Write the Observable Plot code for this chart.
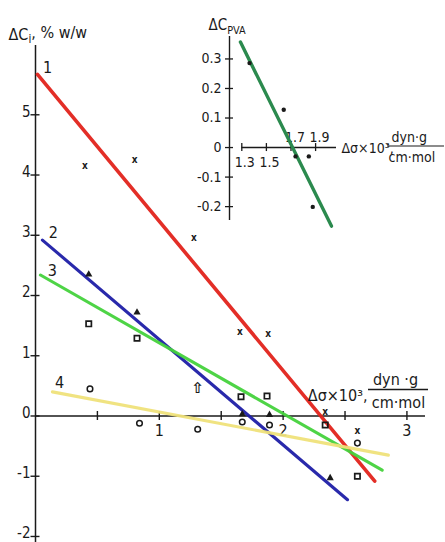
<!DOCTYPE html>
<html><head><meta charset="utf-8">
<script src="https://cdn.jsdelivr.net/npm/d3@7"></script>
<script src="https://cdn.jsdelivr.net/npm/@observablehq/plot@0.6"></script>
<style>
body{margin:0;background:#fff}
#wrap{position:relative;width:445px;height:542px;background:#fff}
#wrap svg{position:absolute;left:0;top:0}
</style></head><body><div id="wrap"></div>
<script>
// ---------- data: main chart ----------
const xTicks = [0.5, 1, 1.5, 2, 2.5, 3];
const xTickLabels = [1, 2, 3];
const yTicks = [-2, -1, 0, 1, 2, 3, 4, 5];
const yTickLabels = ["-2", "-1", "0", "1", "2", "3", "4", "5"];

const lineIds = ["1", "2", "3", "4"];
const lineX1 = [0.016, 0.056, 0.040, 0.137];
const lineY1 = [5.67, 2.92, 2.34, 0.40];
const lineX2 = [2.74, 2.52, 2.80, 2.85];
const lineY2 = [-1.08, -1.39, -0.90, -0.65];
const lineColors = ["#e2231b", "#1e1ea6", "#45d23c", "#efe27a"];

const s1x = [0.40, 0.80, 1.28, 1.65, 1.88, 2.34, 2.60];
const s1y = [4.13, 4.23, 2.94, 1.38, 1.34, 0.05, -0.27];
const s2x = [0.43, 0.82, 1.31, 1.67, 1.89, 2.38];
const s2y = [2.35, 1.72, 0.46, 0.03, 0.02, -1.03];
const s2shape = ["tri", "tri", "arrow", "tri", "tri", "tri"];
const s3x = [0.43, 0.82, 1.66, 1.87, 2.34, 2.60];
const s3y = [1.53, 1.29, 0.32, 0.33, -0.15, -1.00];
const s4x = [0.44, 0.84, 1.31, 1.67, 1.89, 2.60];
const s4y = [0.45, -0.12, -0.22, -0.10, -0.15, -0.45];

// ---------- data: inset ----------
const inXTicks = [1.3, 1.5, 1.7, 1.9];
const inXTickLabels = ["1.3", "1.5", "1.7", "1.9"];
const inYTicks = [-0.2, -0.1, 0, 0.1, 0.2, 0.3];
const inYTickLabels = ["-0.2", "-0.1", "0", "0.1", "0.2", "0.3"];
const inLineX = [1.289, 2.029];
const inLineY = [0.357, -0.266];
const inPtX = [1.363, 1.641, 1.737, 1.845, 1.877];
const inPtY = [0.286, 0.128, -0.030, -0.030, -0.201];

const FONT = "'DejaVu Sans Condensed','Liberation Sans Narrow','Liberation Sans',sans-serif";
const INK = "#1a1a1a";

const pts = (xs, ys, extra) => xs.map((x, i) => ({x, y: ys[i], ...(extra ? {k: extra[i]} : {})}));
const lines = lineIds.flatMap((id, i) => [
  {id, x: lineX1[i], y: lineY1[i]},
  {id, x: lineX2[i], y: lineY2[i]}
]);

// ---------- main chart ----------
const X0 = 0, X1 = 3.15, Y0 = -2.1, Y1 = 6.15;
const W = 445, H = 542, ML = 35, MR = 20, MT = 45, MB = 0;
const pxX = (W - ML - MR) / (X1 - X0);
const pxY = (H - MT - MB) / (Y1 - Y0);
const tx = 4.5 / pxX, ty = 4.5 / pxY;

const labelOffsets = [[10, -7], [11, -7], [12, -4], [7, -9]];

const main = Plot.plot({
  width: W, height: H,
  marginLeft: ML, marginRight: MR, marginTop: MT, marginBottom: MB,
  x: {domain: [X0, X1], axis: null},
  y: {domain: [Y0, Y1], axis: null},
  style: {fontFamily: FONT, background: "transparent", overflow: "visible", color: INK},
  marks: [
    Plot.ruleX([0], {stroke: INK, strokeWidth: 1.5}),
    Plot.ruleY([0], {stroke: INK, strokeWidth: 1.5}),
    Plot.ruleX(xTicks, {x: d => d, y1: () => -ty, y2: () => ty, stroke: INK, strokeWidth: 1.4}),
    Plot.ruleY(yTicks, {y: d => d, x1: () => -tx, x2: () => tx, stroke: INK, strokeWidth: 1.4}),
    Plot.text(xTickLabels, {x: d => d, y: () => 0, dy: 15, text: d => String(d), fontSize: 16, fill: INK}),
    Plot.text(yTicks, {x: () => 0, y: d => d, dx: -5, dy: -3, textAnchor: "end", text: (d, i) => yTickLabels[i], fontSize: 15, fill: INK}),
    Plot.text(["ΔCi, % w/w"], {frameAnchor: "top-left", lineAnchor: "middle", dx: -27, dy: -11, textAnchor: "start", text: d => d, fontSize: 16, fill: INK}),
    // regression lines
    Plot.line(lines, {x: "x", y: "y", z: "id", stroke: d => lineColors[lineIds.indexOf(d.id)], strokeWidth: d => d.id === "1" ? 3.6 : 3.1, strokeOpacity: 0.95}),
    ...lineIds.map((id, i) => Plot.text([id], {x: () => lineX1[i], y: () => lineY1[i], dx: labelOffsets[i][0], dy: labelOffsets[i][1], text: d => d, fontSize: 16, fill: INK})),
    // measured points
    Plot.text(pts(s1x, s1y), {x: "x", y: "y", text: () => "x", fontSize: 10, fontWeight: "bold", fill: INK, dy: -1}),
    Plot.dot(pts(s2x, s2y, s2shape).filter(d => d.k === "tri"), {x: "x", y: "y", symbol: "triangle", r: 2.7, fill: INK}),
    Plot.text(pts(s2x, s2y, s2shape).filter(d => d.k === "arrow"), {x: "x", y: "y", text: () => "⇧", fontSize: 15, fontFamily: "DejaVu Sans", fontWeight: "bold", fill: INK}),
    Plot.dot(pts(s3x, s3y), {x: "x", y: "y", symbol: "square", r: 3, stroke: INK, strokeWidth: 1.7, fill: "none"}),
    Plot.dot(pts(s4x, s4y), {x: "x", y: "y", r: 2.8, stroke: INK, strokeWidth: 1.5, fill: "none"}),
    // axis title
    Plot.text(["Δσ×10³,"], {frameAnchor: "top-right", lineAnchor: "middle", dx: -58, dy: 350, textAnchor: "end", text: d => d, fontSize: 16, fill: INK}),
    Plot.text(["dyn ·g"], {frameAnchor: "top-right", lineAnchor: "middle", dx: -30, dy: 334, textAnchor: "middle", text: d => d, fontSize: 16, fill: INK}),
    Plot.text(["cm·mol"], {frameAnchor: "top-right", lineAnchor: "middle", dx: -27, dy: 357, textAnchor: "middle", text: d => d, fontSize: 16, fill: INK}),
    (index, scales, values, dims) => {
      const y = scales.y(0) - 26, xr = dims.width - dims.marginRight;
      return d3.create("svg:line").attr("x1", xr - 57).attr("x2", xr + 3).attr("y1", y).attr("y2", y)
        .attr("stroke", INK).attr("stroke-width", 1.3).node();
    }
  ]
});

// ---------- inset ----------
const iML = 229, iMR = 109, iMT = 36, iMB = 322;
const iX0 = 1.2, iX1 = 2.07, iY0 = -0.247, iY1 = 0.376;
const ipxX = (W - iML - iMR) / (iX1 - iX0);
const ipxY = (H - iMT - iMB) / (iY1 - iY0);
const itx = 4 / ipxX, ity = 4 / ipxY;

const inset = Plot.plot({
  width: W, height: H,
  marginLeft: iML, marginRight: iMR, marginTop: iMT, marginBottom: iMB,
  x: {domain: [iX0, iX1], axis: null},
  y: {domain: [iY0, iY1], axis: null},
  style: {fontFamily: FONT, background: "transparent", overflow: "visible", color: INK},
  marks: [
    Plot.ruleX([iX0], {stroke: INK, strokeWidth: 1.4}),
    Plot.ruleY([0], {x1: () => inXTicks[0], x2: () => iX1, stroke: INK, strokeWidth: 1.4}),
    Plot.ruleX(inXTicks, {x: d => d, y1: () => -ity, y2: () => ity, stroke: INK, strokeWidth: 1.3}),
    Plot.ruleY(inYTicks, {y: d => d, x1: () => iX0 - itx, x2: () => iX0 + itx, stroke: INK, strokeWidth: 1.3}),
    Plot.text(inXTicks.filter((d, i) => i < 2), {x: d => d, y: () => 0, dx: 3, dy: 15, text: (d, i) => inXTickLabels[i], fontSize: 14, fill: INK}),
    Plot.text(inXTicks.filter((d, i) => i >= 2), {x: d => d, y: () => 0, dx: 4, dy: -10, text: (d, i) => inXTickLabels[i + 2], fontSize: 14, fill: INK}),
    Plot.text(inYTicks, {x: () => iX0, y: d => d, dx: -8, textAnchor: "end", text: (d, i) => inYTickLabels[i], fontSize: 14, fill: INK}),
    Plot.text(["ΔCPVA"], {frameAnchor: "top-left", lineAnchor: "middle", dx: -21, dy: -11, textAnchor: "start", text: d => d, fontSize: 15, fill: INK}),
    Plot.line(inLineX.map((x, i) => ({x, y: inLineY[i]})), {x: "x", y: "y", stroke: "#2b8a4e", strokeWidth: 3.4}),
    Plot.dot(pts(inPtX, inPtY), {x: "x", y: "y", r: 2.2, fill: INK}),
    Plot.text(["Δσ×10³,"], {frameAnchor: "top-right", lineAnchor: "middle", dx: 5, dy: 112, textAnchor: "start", text: d => d, fontSize: 14, fill: INK}),
    Plot.text(["dyn·g"], {frameAnchor: "top-right", lineAnchor: "middle", dx: 55, dy: 101, textAnchor: "start", text: d => d, fontSize: 14, fill: INK}),
    Plot.text(["cm·mol"], {frameAnchor: "top-right", lineAnchor: "middle", dx: 52, dy: 121, textAnchor: "start", text: d => d, fontSize: 14, fill: INK}),
    (index, scales, values, dims) => {
      const y = scales.y(0) - 1, xr = dims.width - dims.marginRight;
      return d3.create("svg:line").attr("x1", xr + 51).attr("x2", xr + 108).attr("y1", y).attr("y2", y)
        .attr("stroke", INK).attr("stroke-width", 1.1).node();
    }
  ]
});

// subscripts as real text via tspans
function subscript(svg, full, base, sub, rest) {
  d3.select(svg).selectAll("text").filter(function () { return this.textContent === full; }).each(function () {
    const t = d3.select(this);
    t.text(null);
    t.append("tspan").text(base);
    t.append("tspan").attr("dy", "0.3em").attr("font-size", "0.72em").text(sub);
    if (rest) t.append("tspan").attr("dy", "-0.3em").text(rest);
  });
}
subscript(main, "ΔCi, % w/w", "ΔC", "i", ", % w/w");
subscript(inset, "ΔCPVA", "ΔC", "PVA", null);

const wrap = document.getElementById("wrap");
wrap.appendChild(main);
wrap.appendChild(inset);
</script>
</body></html>
